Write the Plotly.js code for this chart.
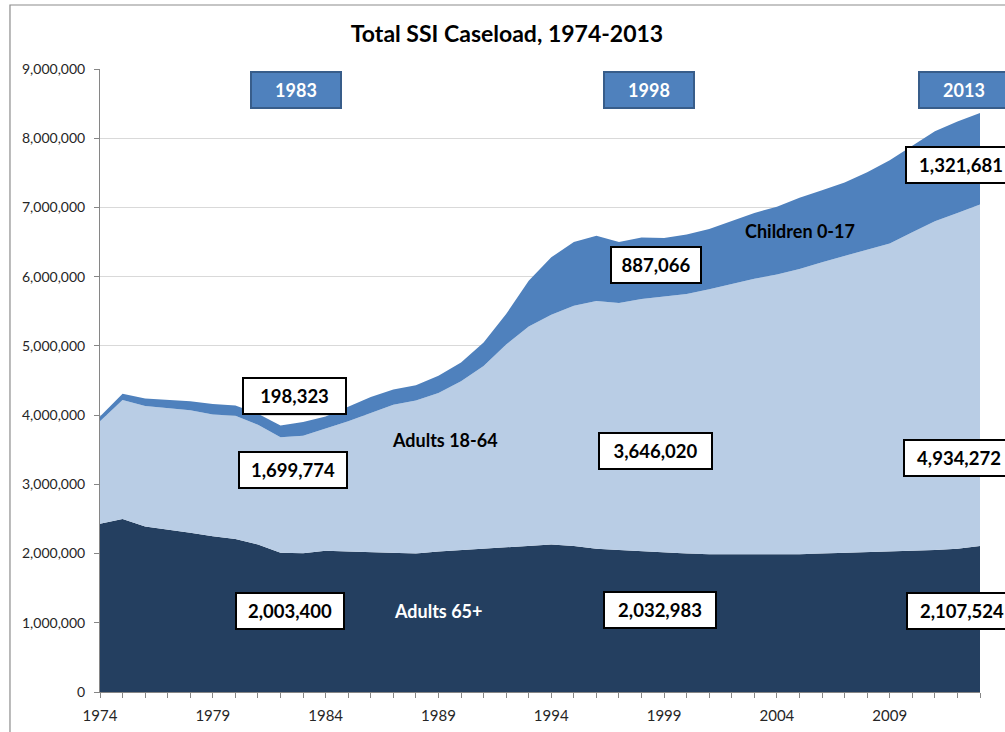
<!DOCTYPE html>
<html>
<head>
<meta charset="utf-8">
<script src="https://cdn.plot.ly/plotly-3.0.1.min.js"></script>
<style>html,body{margin:0;padding:0;background:#fff;}#chart{width:1005px;height:732px;}</style>
</head>
<body>
<div id="chart"></div>
<script>
const years = [1974,1975,1976,1977,1978,1979,1980,1981,1982,1983,1984,1985,1986,1987,1988,1989,1990,1991,1992,1993,1994,1995,1996,1997,1998,1999,2000,2001,2002,2003,2004,2005,2006,2007,2008,2009,2010,2011,2012,2013];
const adults65 = [2430000,2500000,2390000,2350000,2300000,2250000,2210000,2130000,2010000,2003400,2040000,2030000,2020000,2010000,2000000,2030000,2050000,2070000,2090000,2110000,2130000,2110000,2070000,2050000,2032983,2010000,2000000,1990000,1990000,1980000,1980000,1990000,2000000,2010000,2020000,2020000,2030000,2050000,2070000,2107524];
const adults1864 = [1480000,1720000,1740000,1750000,1770000,1760000,1780000,1730000,1670000,1699774,1770000,1880000,2010000,2140000,2210000,2290000,2440000,2640000,2930000,3170000,3320000,3470000,3580000,3570000,3646020,3700000,3750000,3830000,3910000,3990000,4050000,4120000,4210000,4290000,4370000,4460000,4610000,4750000,4850000,4934272];
const children017 = [70000,90000,110000,120000,130000,150000,150000,160000,170000,198323,170000,210000,230000,220000,220000,250000,270000,340000,440000,660000,830000,920000,940000,880000,887066,850000,860000,870000,910000,950000,980000,1030000,1040000,1060000,1120000,1200000,1250000,1300000,1320000,1321681];
const seriesNames = ["Adults 65+","Adults 18-64","Children 0-17"];
const seriesColors = ["#243F60","#B9CDE5","#4F81BD"];
const yTicks = [0,1000000,2000000,3000000,4000000,5000000,6000000,7000000,8000000,9000000];

const FONT = "Lato, 'Open Sans', sans-serif";
const seriesData = [adults65, adults1864, children017];
const traces = seriesData.map((vals, i) => ({
  type: "scatter", mode: "lines", x: years, y: vals, name: seriesNames[i],
  stackgroup: "one", line: {width: 0, color: seriesColors[i]},
  fillcolor: seriesColors[i], hoverinfo: "skip"
}));

function valueBox(text, x, y, w) {
  return {text: "<b>" + text + "</b>", x: x, y: y, xref: "x", yref: "y", showarrow: false,
    bgcolor: "#ffffff", bordercolor: "#000000", borderwidth: 2, borderpad: 0,
    width: w, height: 34, font: {family: FONT, size: 18.5, color: "#000"}};
}
function yearBox(text, x, y) {
  return {text: "<b>" + text + "</b>", x: x, y: y, xref: "x", yref: "y", showarrow: false,
    bgcolor: "#4F81BD", bordercolor: "#385D8A", borderwidth: 2, borderpad: 0,
    width: 88, height: 34, font: {family: FONT, size: 18, color: "#ffffff"}};
}
function seriesLabel(text, x, y, color) {
  return {text: "<b>" + text + "</b>", x: x, y: y, xref: "x", yref: "y", showarrow: false,
    font: {family: FONT, size: 18, color: color}};
}
const fmt = v => v.toLocaleString("en-US");

const annotations = [
  yearBox("1983", 1982.69, 8694000),
  yearBox("1998", 1998.31, 8700000),
  yearBox("2013", 2012.30, 8694000),
  valueBox(fmt(children017[9]), 1982.64, 4283000, 101),
  valueBox(fmt(adults1864[9]), 1982.55, 3200000, 106),
  valueBox(fmt(adults65[9]), 1982.42, 1165000, 106),
  valueBox(fmt(children017[24]), 1998.65, 6174000, 88),
  valueBox(fmt(adults1864[24]), 1998.60, 3475000, 111),
  valueBox(fmt(adults65[24]), 1998.82, 1180000, 110),
  valueBox(fmt(children017[39]), 2012.16, 7618000, 108),
  valueBox(fmt(adults1864[39]), 2012.08, 3381000, 108),
  valueBox(fmt(adults65[39]), 2012.21, 1172000, 108),
  seriesLabel("Adults 18-64", 1989.29, 3634000, "#000000"),
  seriesLabel("Children 0-17", 2005.03, 6665000, "#000000"),
  seriesLabel("Adults 65+", 1988.98, 1165000, "#ffffff")
];

const layout = {
  width: 1005, height: 732,
  margin: {l: 100, r: 25, t: 69, b: 40},
  paper_bgcolor: "#ffffff", plot_bgcolor: "#ffffff",
  showlegend: false,
  title: {text: "<b>Total SSI Caseload, 1974-2013</b>", font: {family: FONT, size: 23, color: "#000"},
    xref: "container", yref: "container", x: 0.5045, y: 0.9536, xanchor: "center", yanchor: "middle"},
  xaxis: {range: [1974, 2013], tick0: 1974, dtick: 5, tickmode: "linear",
    ticks: "outside", ticklen: 5, tickcolor: "#868686", showgrid: false, zeroline: false,
    showline: true, linecolor: "#868686", linewidth: 1,
    minor: {tick0: 1974, dtick: 1, ticks: "outside", ticklen: 5, tickcolor: "#868686", showgrid: false},
    tickfont: {family: FONT, size: 15, color: "#262626"}, ticklabelstandoff: 5, fixedrange: true},
  yaxis: {range: [0, 9000000], tickvals: yTicks, tickformat: ",d",
    ticks: "outside", ticklen: 5, tickcolor: "#868686",
    showgrid: true, gridcolor: "#D9D9D9", gridwidth: 1, zeroline: false,
    showline: true, linecolor: "#868686", linewidth: 1,
    tickfont: {family: FONT, size: 14, color: "#262626"}, ticklabelstandoff: 6, fixedrange: true},
  shapes: [{type: "rect", xref: "paper", yref: "paper", x0: -0.1023, x1: 1.04, y0: -0.08, y1: 1.1027,
    line: {color: "#8C8C8C", width: 1.2}, fillcolor: "rgba(0,0,0,0)", layer: "above"}],
  annotations: annotations
};

Plotly.newPlot("chart", traces, layout, {displayModeBar: false, staticPlot: true});
</script>
</body>
</html>
